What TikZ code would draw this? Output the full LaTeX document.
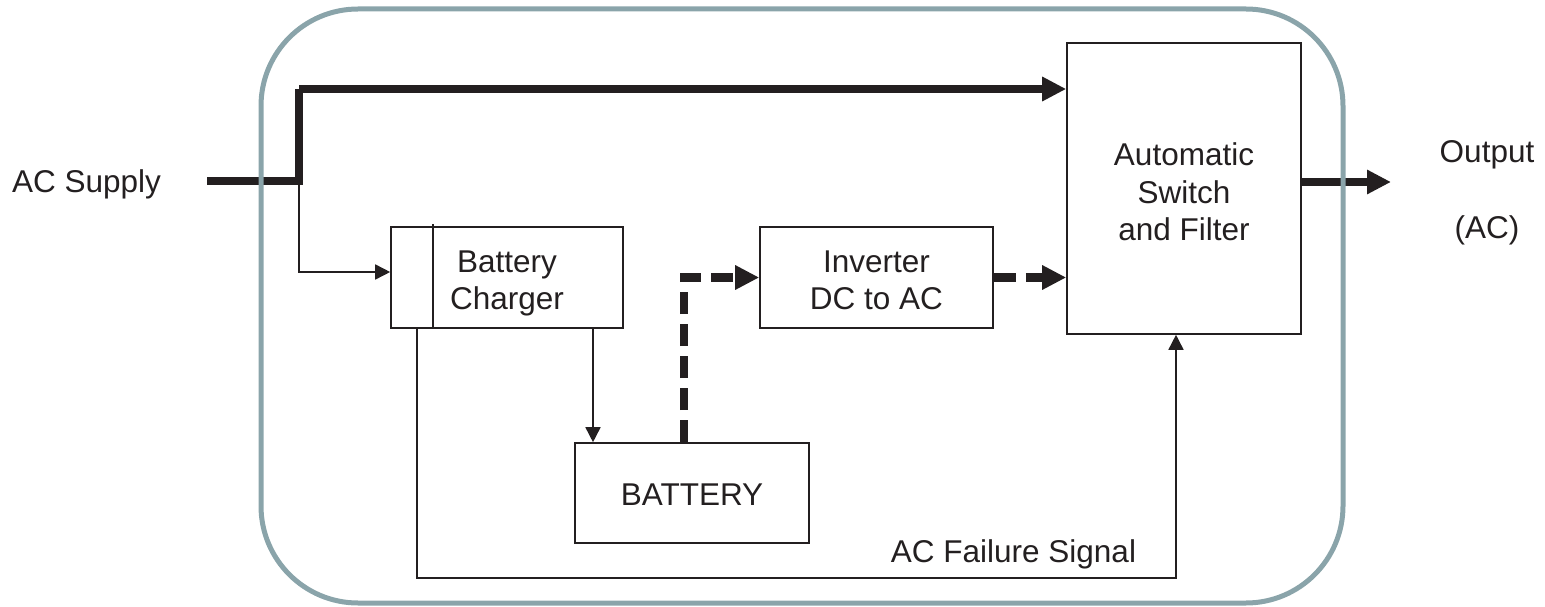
\documentclass[tikz,border=0pt]{standalone}
\usepackage{fontspec}
\setmainfont{Liberation Sans}
\usetikzlibrary{arrows.meta}
\definecolor{ink}{RGB}{35,31,32}
\definecolor{framec}{RGB}{138,164,170}
\tikzset{
  box/.style={draw=ink, line width=1.6pt, rectangle, inner sep=0pt},
  lbl/.style={inner sep=0pt, text=ink, align=center},
  thin/.style={draw=ink, line width=1.6pt},
  thinarrow/.style={thin, -{Triangle[length=15pt,width=15pt]}},
  power/.style={draw=ink, line width=8pt},
  powerarrow/.style={power, -{Triangle[length=24pt,width=23pt]}},
  dcpath/.style={draw=ink, line width=8.5pt, dash pattern=on 22pt off 10pt, -{Triangle[length=24pt,width=23pt]}},
  frame/.style={draw=framec, line width=5pt, rounded corners=97pt}
}
\begin{document}
\begin{tikzpicture}[x=1pt,y=-1pt, font=\fontsize{31.5}{37.5}\selectfont]
\useasboundingbox (0,0) rectangle (1545,607);
% boxes
\node[box, minimum width=232pt, minimum height=101pt] (charger) at (507,277.5) {};
\node[box, minimum width=234pt, minimum height=100pt] (battery) at (692,493) {};
\node[box, minimum width=233pt, minimum height=101pt] (inverter) at (876.5,277.5) {};
\node[box, minimum width=234pt, minimum height=291pt] (asf) at (1184,188.5) {};
% box texts
\node[lbl] (chargertxt) at ([yshift=-6pt]charger.center) {Battery\\Charger};
\node[lbl, anchor=base] (batterytxt) at (692,505) {BATTERY};
\node[lbl] (invertertxt) at ([yshift=-3pt]inverter.center) {Inverter\\DC to AC};
\node[lbl] (asftxt) at ([yshift=-1.5pt]1184,190.5) {Automatic\\Switch\\and Filter};
% labels
\node[lbl, anchor=base west] (acin) at (12,192) {AC Supply};
\node[lbl, anchor=base] (out1) at (1487,163) {Output};
\node[lbl, anchor=base] (out2) at (1487,238) {(AC)};
\node[lbl, anchor=base] (fail) at (1013.5,562) {AC Failure Signal};
% divider in charger
\coordinate (divtop) at (433,224);
\draw[thin] (divtop) -- (divtop |- charger.south);
% coordinates
\coordinate (acstart) at (207,181);
\coordinate (junc) at (299,181);
\coordinate (topleft) at (299,89);
\coordinate (chin) at (299,272);
\coordinate (outtip) at (1391,182);
\coordinate (sigleft) at (417,578);
\coordinate (sigright) at (1176,578);
% AC main path
\draw[power, line cap=butt] (acstart) -- (junc) -- (topleft);
\draw[powerarrow] (topleft) -- (topleft -| asf.west);
% charger feed
\draw[thinarrow] (junc) -- (chin) -- (chin -| charger.west);
% charger to battery
\draw[thinarrow] (charger.south -| 593,0) -- (battery.north -| 593,0);
% battery to inverter (dc)
\draw[dcpath] (battery.north -| 684,0) |- (inverter.west);
% inverter to switch
\draw[dcpath] (inverter.east) -- (inverter.east -| asf.west);
% output
\draw[powerarrow] (outtip -| asf.east) -- (outtip);
% failure signal
\draw[thinarrow] (charger.south -| sigleft) -- (sigleft) -- (sigright) -- (sigright |- asf.south);
% frame
\draw[frame] (261,9) rectangle (1343,603);
\end{tikzpicture}
\end{document}
